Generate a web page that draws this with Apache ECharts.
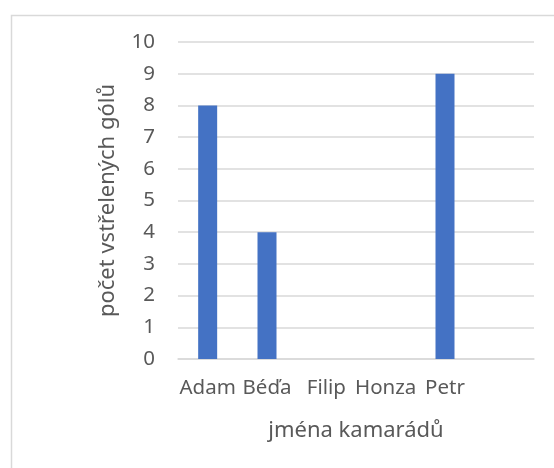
<!DOCTYPE html>
<html>
<head>
<meta charset="utf-8">
<script src="https://cdn.jsdelivr.net/npm/echarts@6/dist/echarts.min.js"></script>
<style>html,body{margin:0;padding:0;background:#fff}#c{width:554px;height:468px}</style>
</head>
<body>
<div id="c"></div>
<script>
const categories = ['Adam', 'Béďa', 'Filip', 'Honza', 'Petr', ''];
const goals = [8, 4, null, null, 9, null];
const yTicks = { min: 0, max: 10, interval: 1 };
const xTitle = 'jména kamarádů';
const yTitle = 'počet vstřelených gólů';

const FONT = 'Noto Sans';
const chart = echarts.init(document.getElementById('c'), null, { renderer: 'canvas' });
chart.setOption({
  animation: false,
  backgroundColor: '#ffffff',
  graphic: [{
    type: 'rect', left: 9, top: 13, z: -10,
    shape: { width: 620, height: 520 },
    style: { fill: 'none', stroke: '#d9d9d9', lineWidth: 1.5 }
  }],
  grid: { left: 178, right: 20, top: 42, bottom: 109, containLabel: false },
  xAxis: {
    type: 'category', data: categories,
    axisLine: { show: true, lineStyle: { color: '#d9d9d9', width: 1.5 } },
    axisTick: { show: false },
    axisLabel: { color: '#595959', fontFamily: FONT, fontSize: 20.5, margin: 19, interval: 0 },
    name: xTitle, nameLocation: 'middle', nameGap: 61,
    nameTextStyle: { color: '#595959', fontFamily: FONT, fontSize: 22 }
  },
  yAxis: {
    type: 'value', min: yTicks.min, max: yTicks.max, interval: yTicks.interval,
    axisLine: { show: false }, axisTick: { show: false },
    splitLine: { lineStyle: { color: '#d9d9d9', width: 1.5 } },
    axisLabel: { color: '#595959', fontFamily: FONT, fontSize: 20.5, margin: 23 },
    name: yTitle, nameLocation: 'middle', nameGap: 59, nameRotate: 90,
    nameTextStyle: { color: '#595959', fontFamily: FONT, fontSize: 22 }
  },
  series: [{
    type: 'bar', data: goals, barWidth: 19,
    itemStyle: { color: '#4472c4' }
  }]
});
</script>
</body>
</html>
